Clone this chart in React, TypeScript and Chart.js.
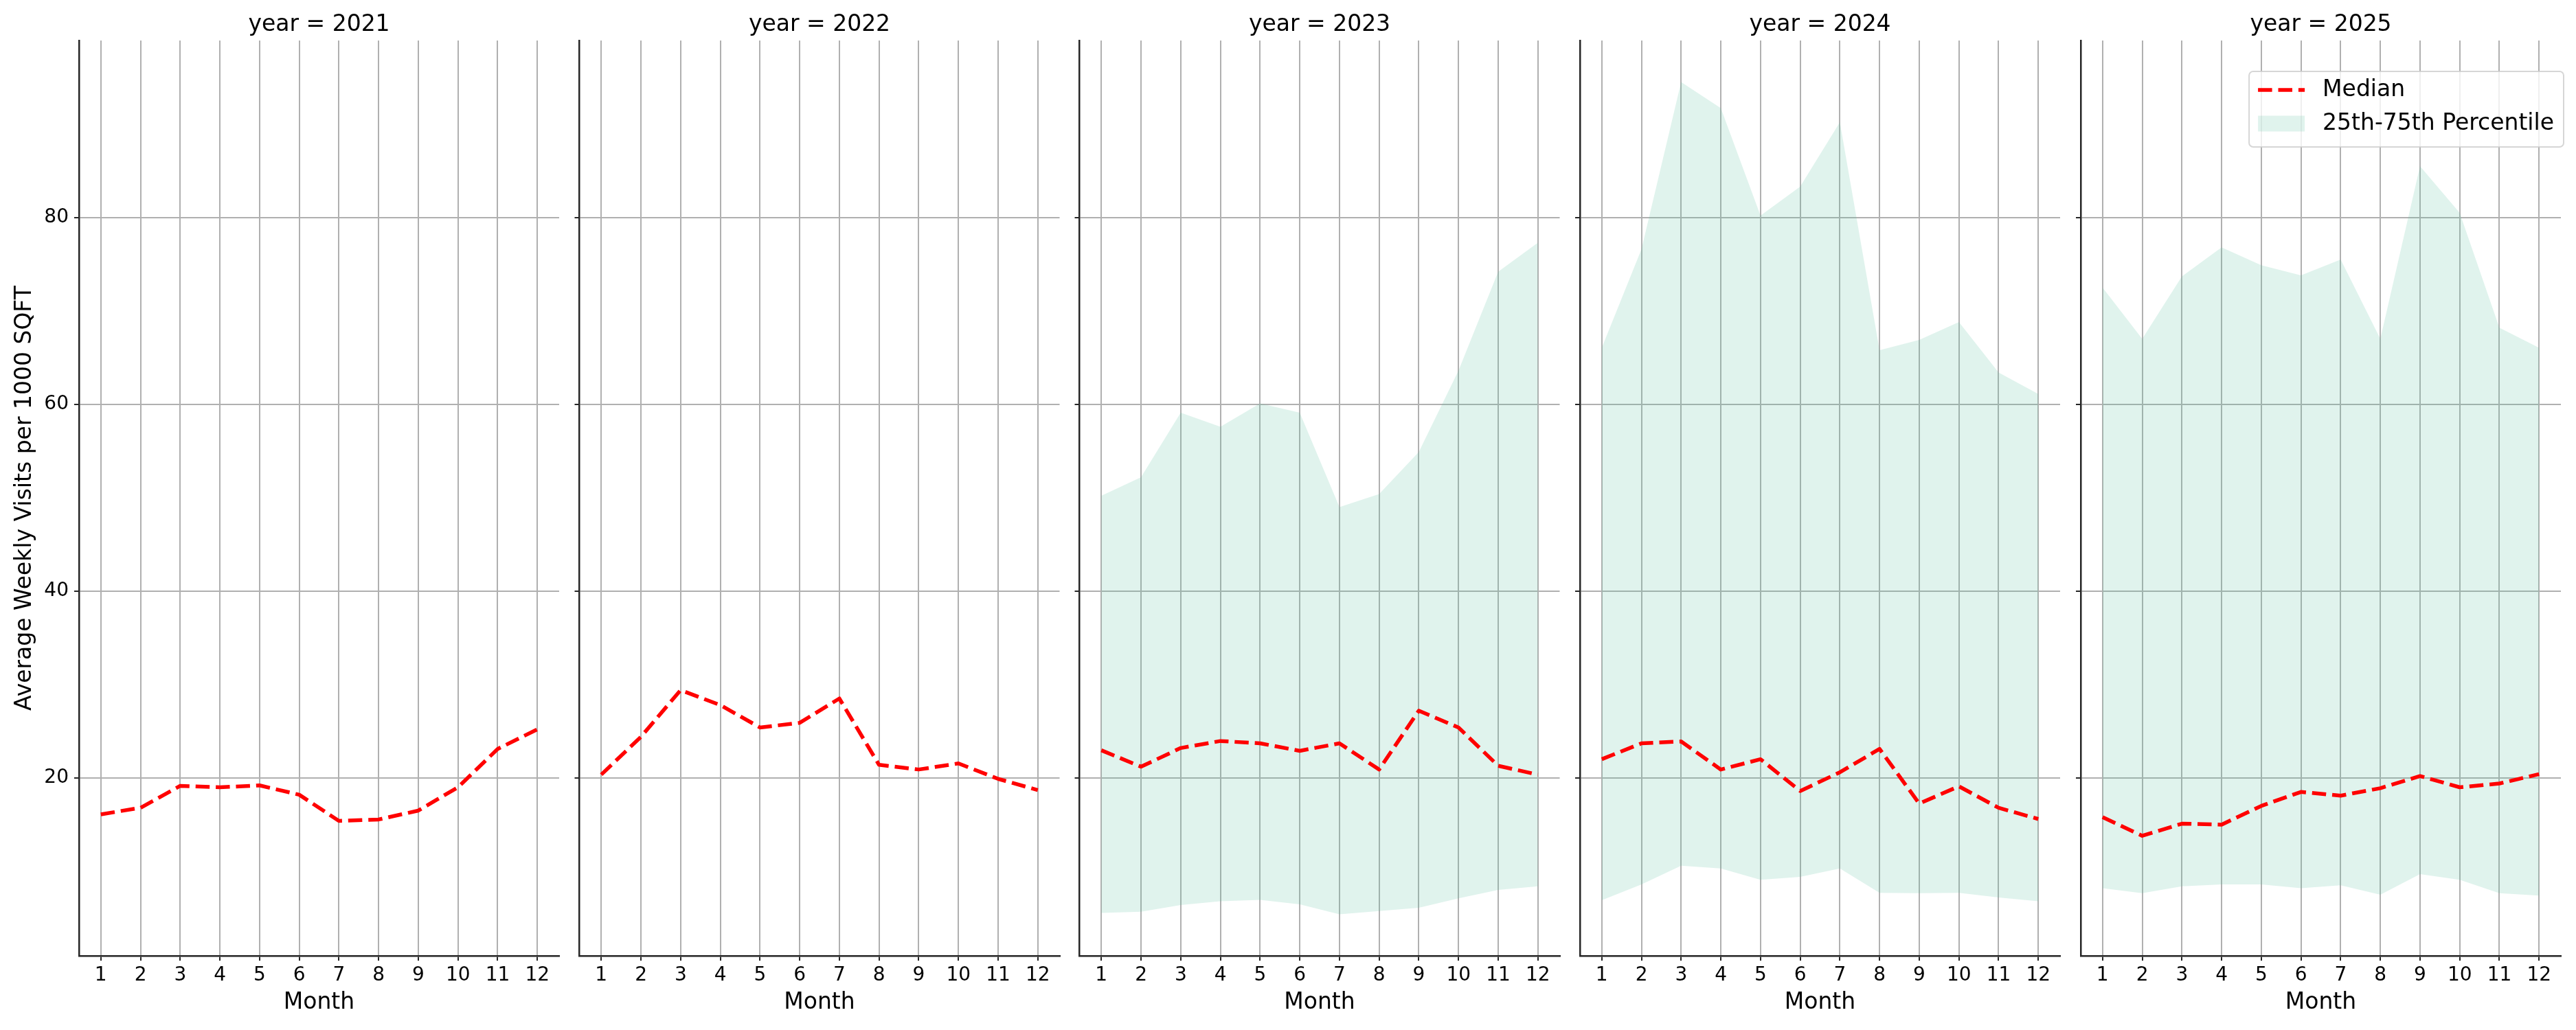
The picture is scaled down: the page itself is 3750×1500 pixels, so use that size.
import { useEffect, useRef } from 'react';
import { Chart, type ChartConfiguration, type Plugin } from 'chart.js/auto';

// facet values
const years = [2021, 2022, 2023, 2024, 2025];
const months = [1, 2, 3, 4, 5, 6, 7, 8, 9, 10, 11, 12];
const yTicks = [20, 40, 60, 80];
const legendLabels = ['Median', '25th-75th Percentile'];

const median2021 = [16.1, 16.8, 19.15, 19.0, 19.2, 18.2, 15.4, 15.55, 16.5, 19.0, 23.1, 25.2];
const median2022 = [20.35, 24.4, 29.4, 27.8, 25.4, 25.9, 28.5, 21.4, 20.9, 21.55, 19.9, 18.7];
const median2023 = [22.96, 21.2, 23.2, 23.95, 23.7, 22.9, 23.7, 20.9, 27.2, 25.4, 21.3, 20.35];
const median2024 = [22.0, 23.7, 23.9, 20.9, 22.0, 18.6, 20.6, 23.1, 17.25, 19.1, 16.8, 15.6];
const median2025 = [15.8, 13.8, 15.1, 15.0, 17.0, 18.5, 18.1, 18.9, 20.2, 19.0, 19.4, 20.4];

const p25_2023 = [5.54, 5.68, 6.39, 6.8, 6.95, 6.46, 5.4, 5.75, 6.1, 7.1, 8.0, 8.4];
const p75_2023 = [50.2, 52.2, 59.1, 57.6, 60.1, 59.1, 49.0, 50.4, 54.9, 63.6, 74.2, 77.3];
const p25_2024 = [6.9, 8.6, 10.6, 10.3, 9.1, 9.4, 10.3, 7.7, 7.65, 7.7, 7.2, 6.8];
const p75_2024 = [66.05, 76.6, 94.5, 91.7, 80.2, 83.3, 90.2, 65.8, 66.9, 68.8, 63.4, 61.1];
const p25_2025 = [8.2, 7.65, 8.4, 8.6, 8.6, 8.2, 8.5, 7.5, 9.7, 9.1, 7.65, 7.4];
const p75_2025 = [72.5, 67.0, 73.7, 76.8, 74.9, 73.8, 75.5, 67.0, 85.5, 80.5, 68.2, 66.05];

const medians = [median2021, median2022, median2023, median2024, median2025];
const p25s = [null, null, p25_2023, p25_2024, p25_2025];
const p75s = [null, null, p75_2023, p75_2024, p75_2025];

// layout (px)
const W = 3750;
const H = 1500;
const AXES_LEFT = [115, 843.5, 1571.5, 2300, 3029];
const AXES_WIDTH = 699;
const AXES_BOTTOM = 1392;
const FONT = '"DejaVu Sans", sans-serif';
const BAND = 'rgba(102, 194, 165, 0.2)';

const toPoints = (arr: number[]) => months.map((m, i) => ({ x: m, y: arr[i] }));

// matplotlib-like boxed legend in the top right corner
const boxLegend: Plugin<'line'> = {
  id: 'boxLegend',
  afterDraw(chart) {
    const { ctx, chartArea } = chart;
    ctx.save();
    ctx.font = `33px ${FONT}`;
    const textW = Math.max(...legendLabels.map((t) => ctx.measureText(t).width));
    const w = 13 + 68 + 26 + textW + 14;
    const right = chartArea.right + 4;
    const left = right - w;
    const top = chartArea.top + 45;
    ctx.beginPath();
    ctx.roundRect(left, top, w, 110, 6);
    ctx.fillStyle = 'rgba(255,255,255,0.8)';
    ctx.fill();
    ctx.strokeStyle = 'rgba(204,204,204,0.8)';
    ctx.lineWidth = 2;
    ctx.stroke();

    const y1 = chartArea.top + 72;
    const y2 = chartArea.top + 121;
    ctx.setLineDash([20.5, 8.9]);
    ctx.strokeStyle = '#ff0000';
    ctx.lineWidth = 5.5;
    ctx.beginPath();
    ctx.moveTo(left + 13, y1);
    ctx.lineTo(left + 81, y1);
    ctx.stroke();
    ctx.setLineDash([]);
    ctx.fillStyle = BAND;
    ctx.fillRect(left + 13, y2 - 11.5, 68, 23);

    ctx.fillStyle = '#000';
    ctx.textBaseline = 'middle';
    ctx.textAlign = 'left';
    ctx.fillText(legendLabels[0], left + 107, y1);
    ctx.fillText(legendLabels[1], left + 107, y2);
    ctx.restore();
  },
};

function Panel({ index }: { index: number }) {
  const canvasRef = useRef<HTMLCanvasElement>(null);
  const chartRef = useRef<Chart | null>(null);

  const canvasLeft = index === 0 ? 0 : Math.floor(AXES_LEFT[index] - 28);
  const axesRight = AXES_LEFT[index] + AXES_WIDTH;
  const canvasRight = Math.ceil(axesRight) + (index === 4 ? 16 : 4);
  const canvasWidth = canvasRight - canvasLeft;

  useEffect(() => {
    if (!canvasRef.current) return;
    if (chartRef.current) chartRef.current.destroy();

    const datasets: any[] = [
      {
        label: legendLabels[0],
        data: toPoints(medians[index]),
        borderColor: '#ff0000',
        borderWidth: 5.5,
        borderDash: [20.5, 8.9],
        borderJoinStyle: 'round',
        pointRadius: 0,
        tension: 0,
        fill: false,
      },
    ];
    const hi = p75s[index];
    const lo = p25s[index];
    if (hi && lo) {
      datasets.push(
        {
          label: legendLabels[1],
          data: toPoints(hi),
          borderWidth: 0,
          borderColor: 'rgba(0,0,0,0)',
          backgroundColor: BAND,
          pointRadius: 0,
          tension: 0,
          fill: '+1',
        },
        {
          label: '25th',
          data: toPoints(lo),
          borderWidth: 0,
          borderColor: 'rgba(0,0,0,0)',
          pointRadius: 0,
          tension: 0,
          fill: false,
        },
      );
    }

    const gridOpts = {
      color: '#b0b0b0',
      lineWidth: 2,
      tickLength: 7,
      tickColor: '#262626',
      tickWidth: 2,
    };

    const config: ChartConfiguration<'line'> = {
      type: 'line',
      data: { datasets },
      options: {
        responsive: false,
        animation: false,
        devicePixelRatio: 1,
        layout: {
          autoPadding: false,
          padding: { left: 0, right: canvasRight - axesRight, top: 0, bottom: 0 },
        },
        plugins: {
          legend: { display: false },
          tooltip: { enabled: false },
          title: {
            display: true,
            text: `year = ${years[index]}`,
            fullSize: false,
            color: '#000',
            font: { family: FONT, size: 33, weight: 'normal' },
            padding: { top: 17, bottom: 2.4 },
          },
        },
        scales: {
          x: {
            type: 'linear',
            min: 0.45,
            max: 12.55,
            afterBuildTicks: (s: any) => {
              s.ticks = months.map((v) => ({ value: v }));
            },
            afterFit: (s: any) => {
              s.height = H - AXES_BOTTOM;
            },
            ticks: {
              color: '#000',
              font: { family: FONT, size: 28 },
              padding: 5,
              maxRotation: 0,
              autoSkip: false,
              callback: (v: any) => String(v),
            },
            grid: gridOpts,
            border: { color: '#262626', width: 2.5 },
            title: {
              display: true,
              text: 'Month',
              color: '#000',
              font: { family: FONT, size: 33 },
              padding: { top: 0, bottom: 20 },
            },
          },
          y: {
            type: 'linear',
            min: 0.95,
            max: 98.95,
            afterBuildTicks: (s: any) => {
              s.ticks = yTicks.map((v) => ({ value: v }));
            },
            afterFit: (s: any) => {
              s.width = AXES_LEFT[index] - canvasLeft;
            },
            ticks: {
              display: index === 0,
              color: '#000',
              font: { family: FONT, size: 28 },
              padding: 8,
              callback: (v: any) => String(v),
            },
            grid: gridOpts,
            border: { color: '#262626', width: 2.5 },
            title: {
              display: index === 0,
              text: 'Average Weekly Visits per 1000 SQFT',
              color: '#000',
              font: { family: FONT, size: 33 },
              padding: { top: 17, bottom: 0 },
            },
          },
        },
      },
      plugins: index === 4 ? [boxLegend] : [],
    };

    chartRef.current = new Chart(canvasRef.current, config);

    return () => {
      if (chartRef.current) {
        chartRef.current.destroy();
        chartRef.current = null;
      }
    };
  }, [index]);

  return (
    <canvas
      ref={canvasRef}
      width={canvasWidth}
      height={H}
      style={{
        position: 'absolute',
        left: canvasLeft,
        top: 0,
        width: canvasWidth,
        height: H,
      }}
    />
  );
}

export default function App() {
  return (
    <div
      style={{
        position: 'absolute',
        left: 0,
        top: 0,
        width: W,
        height: H,
        background: '#fff',
        overflow: 'hidden',
      }}
    >
      {years.map((y, i) => (
        <Panel key={y} index={i} />
      ))}
    </div>
  );
}
